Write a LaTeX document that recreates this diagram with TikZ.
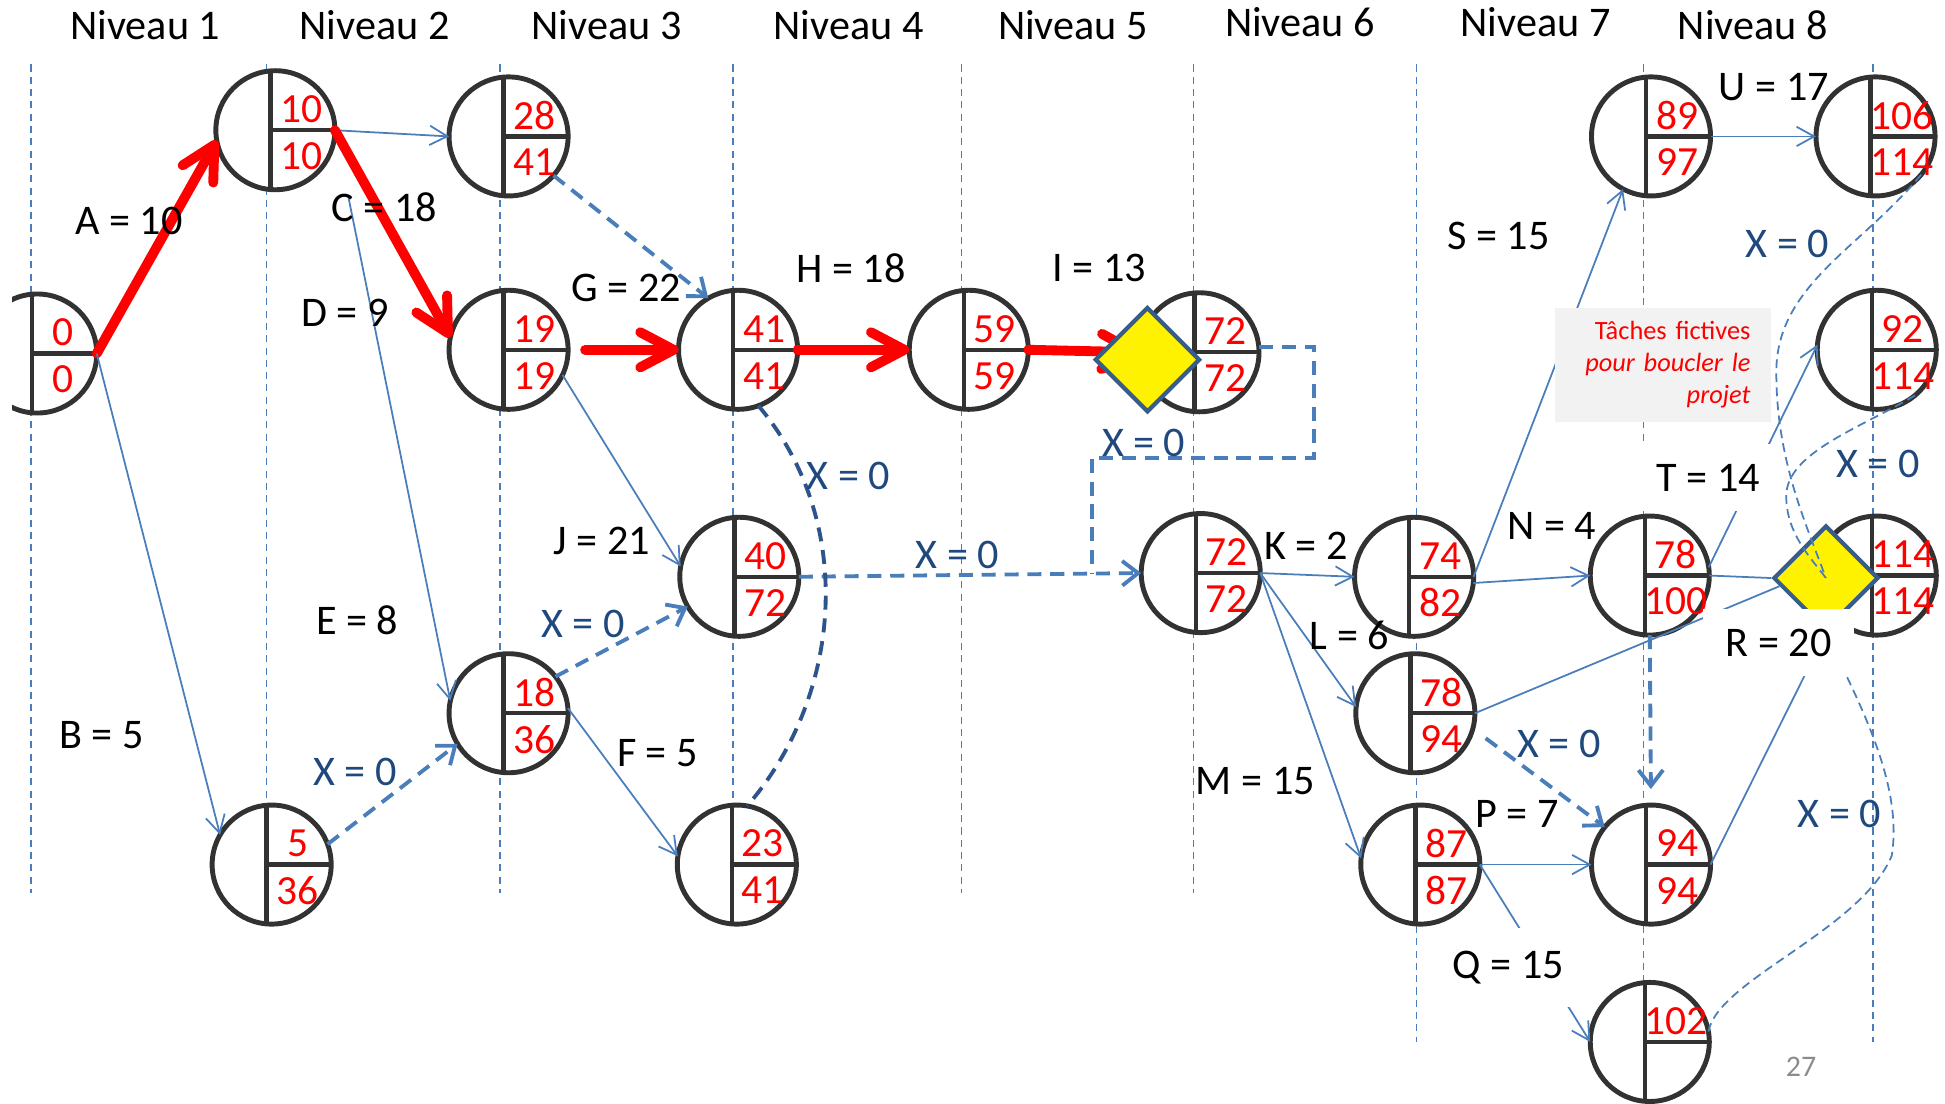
\documentclass[tikz,border=0pt]{standalone}
\usepackage{fontspec}
\setmainfont{Carlito}
\usetikzlibrary{arrows.meta,shapes.geometric}

\definecolor{pertblue}{RGB}{74,126,187}
\definecolor{pertnavy}{RGB}{31,73,125}
\definecolor{pertcurve}{RGB}{46,84,140}
\definecolor{diaedge}{RGB}{56,93,138}
\definecolor{notegray}{RGB}{242,242,242}
\definecolor{evtgray}{RGB}{50,50,50}

% event: name, x, y, early date, late date
\newcommand{\evt}[5]{%
  \node[evt] (#1) at (#2,#3) {};
  \draw[evtline] (#2-4,#3-47.8) -- (#2-4,#3+47.8);
  \draw[evtline] (#2-4,#3) -- (#2+48,#3);
  \node[num] (#1t) at (#2+21,#3-17) {#4};
  \node[num] (#1b) at (#2+21,#3+21) {#5};}

\begin{document}
\begin{tikzpicture}
    [x=0.124mm,y=-0.124mm,
     evt/.style={circle,draw=evtgray,line width=1.4pt,fill=white,minimum size=11.9mm,inner sep=0,outer sep=0},
     evtline/.style={evtgray,line width=1.25pt},
     num/.style={text=red,inner sep=0,font=\fontsize{11.8}{13}\selectfont},
     dia/.style={diamond,aspect=1,draw=diaedge,fill=yellow,line width=1.2pt,minimum size=10.5mm,inner sep=0},
     level/.style={pertblue,line width=0.45pt,dash pattern=on 2pt off 1.5pt},
     title/.style={font=\fontsize{12}{14}\selectfont},
     lbl/.style={font=\fontsize{12}{14}\selectfont,inner sep=1pt},
     xlbl/.style={lbl,text=pertnavy},
     act/.style={pertblue,line width=0.5pt,-{Straight Barb[length=5pt,width=5.5pt]}},
     actline/.style={pertblue,line width=0.5pt},
     crit/.style={red,line width=2.8pt,line cap=round,-{Straight Barb[length=9.5pt,width=10pt,round]}},
     dummy/.style={pertblue,line width=1.1pt,dash pattern=on 4pt off 2.5pt,-{Straight Barb[length=4.5pt,width=7pt]}},
     dummyline/.style={pertblue,line width=1.1pt,dash pattern=on 4pt off 2.5pt},
     curve/.style={pertcurve,line width=1.1pt,dash pattern=on 4pt off 2.5pt},
     fict/.style={pertblue,line width=0.5pt,dash pattern=on 2.5pt off 1.5pt}]
    \useasboundingbox (0,0) rectangle (1568,890);

    % niveaux
    \foreach \lx in {25,215,403,591,775,962}
      \draw[level] (\lx,52) -- (\lx,720);
    \foreach \lx in {1142,1325,1510}
      \draw[level] (\lx,52) -- (\lx,840);
    \foreach \k/\lx/\ly in {1/117/20,2/302/20,3/489/20,4/684/20,5/865/20,6/1048/18,7/1238/18,8/1413/20}
      \node[title] (niv\k) at (\lx,\ly) {Niveau \k};

    % events
    \evt{n0}{30}{285}{0}{0}
    \fill[white] (0,230) rectangle (10,340);
    \evt{n10}{222}{105}{10}{10}
    \evt{n5}{219}{697}{5}{36}
    \evt{n28}{410}{110}{28}{41}
    \evt{n19}{410}{282}{19}{19}
    \evt{n18}{410}{575}{18}{36}
    \evt{n41}{595}{282}{41}{41}
    \evt{n40}{596}{465}{40}{72}
    \evt{n23}{594}{697}{23}{41}
    \evt{n59}{781}{282}{59}{59}
    \evt{n72a}{967}{284}{72}{72}
    \evt{n72b}{968}{462}{72}{72}
    \evt{n74}{1140}{465}{74}{82}
    \evt{n78a}{1141}{575}{78}{94}
    \evt{n87}{1145}{697}{87}{87}
    \evt{n89}{1331}{110}{89}{97}
    \evt{n78b}{1330}{464}{78}{100}
    \evt{n94}{1331}{697}{94}{94}
    \evt{n102}{1330}{840}{102}{}
    \evt{n106}{1512}{110}{106}{114}
    \evt{n92}{1513}{282}{92}{114}
    \evt{n114}{1513}{464}{114}{114}
    \node[dia] (dia2) at (1472,466) {};
    \coordinate (j72) at (880,462);

    % activities
    \draw[crit] (n0.east) -- (n10.190);
    \draw[act] (n0.east) -- (n5.150);
    \draw[act] (n10.east) -- (n28.west);
    \draw[crit] (n10.east) -- (n19.168);
    \draw[act,shorten <=6.8mm] (n10.east) -- (n18.168);
    \draw[crit,shorten <=1.7mm] (n19.east) -- (n41.west);
    \draw[act] (n19.-25) -- (n40.170);
    \draw[act] (n18.5) -- (n23.172);
    \draw[crit] (n41.east) -- (n59.west);
    \draw[crit] (n59.east) -- (n72a.west);
    \draw[act] (n72b.east) -- (n74.west);
    \draw[act] (n72b.east) -- (n78a.174);
    \draw[act] (n72b.east) -- (n87.174);
    \draw[act] (n74.east) -- (n89.242);
    \draw[act] (n74.-6) -- (n78b.west);
    \draw[act] (n87.east) -- (n94.west);
    \draw[act] (n87.east) -- (n102.west);
    \draw[act] (n89.east) -- (n106.west);
    \draw[act] (n78b.8) -- (n92.175);
    \draw[actline] (n78b.east) -- (dia2.west);
    \draw[actline] (n78a.east) -- (dia2.190);
    \draw[actline] (n94.east) -- (dia2.south);

    % dummies
    \draw[dummy] (n5.20) -- (n18.211);
    \draw[dummy] (n18.38) -- (n40.210);
    \draw[dummy] (n28.-41) -- (n41.120);
    \draw[dummy] (n40.east) -- (n72b.west);
    \draw[dummyline] (n72a.5) -| (1059,369) -| (j72);
    \draw[dummy,shorten <=1.6mm] (n78a.-15) -- (n94.141);
    \draw[dummy,shorten >=1.6mm] (n78b.south) -- (n94.north);
    \draw[curve] (n41.-70) .. controls (690,420) and (680,560) .. (n23.80);

    \node[dia] (dia1) at (925,290) {};

    % fictive tasks
    \draw[fict] (n106.-40) .. controls (1500,200) and (1432,230) .. (1432,300)
      .. controls (1432,370) and (1455,420) .. (dia2.center);
    \draw[fict] (n92.-50) .. controls (1500,345) and (1440,365) .. (1440,400)
      .. controls (1440,430) and (1460,450) .. (dia2.center);
    \draw[fict] (n102.10) .. controls (1385,790) and (1500,750) .. (1525,690)
      .. controls (1535,630) and (1495,560) .. (dia2.south);

    % labels
    \node[lbl] (lA) at (104,178) {A = 10};
    \node[lbl] (lB) at (82,593) {B = 5};
    \node[lbl] (lC) at (310,167) {C = 18};
    \node[lbl] (lD) at (278,252) {D = 9};
    \node[lbl] (lE) at (288,500) {E = 8};
    \node[lbl] (lF) at (530,607) {F = 5};
    \node[lbl] (lG) at (505,232) {G = 22};
    \node[lbl] (lH) at (686,216) {H = 18};
    \node[lbl] (lI) at (886,216) {I = 13};
    \node[lbl] (lJ) at (485,436) {J = 21};
    \node[lbl] (lK) at (1053,440) {K = 2};
    \node[lbl] (lL) at (1088,512) {L = 6};
    \node[lbl] (lM) at (1012,630) {M = 15};
    \node[lbl] (lN) at (1251,424) {N = 4};
    \node[lbl] (lP) at (1223,656) {P = 7};
    \node[lbl,fill=white,minimum width=13.9mm,minimum height=7.9mm] (lQ) at (1216,780) {Q = 15};
    \node[lbl,fill=white,minimum width=15.1mm,minimum height=6.7mm] (lR) at (1434,518) {R = 20};
    \node[lbl] (lS) at (1208,190) {S = 15};
    \node[lbl,fill=white,minimum width=13.6mm,minimum height=6.7mm] (lT) at (1377,385) {T = 14};
    \node[lbl] (lU) at (1430,70) {U = 17};

    \node[xlbl] (x1) at (286,622) {X = 0};
    \node[xlbl] (x2) at (470,503) {X = 0};
    \node[xlbl] (x3) at (684,384) {X = 0};
    \node[xlbl] (x4) at (772,447) {X = 0};
    \node[xlbl] (x5) at (922,357) {X = 0};
    \node[xlbl] (x6) at (1257,600) {X = 0};
    \node[xlbl] (x7) at (1441,197) {X = 0};
    \node[xlbl] (x8) at (1514,374) {X = 0};
    \node[xlbl] (x9) at (1483,656) {X = 0};

    \node[fill=notegray,text=red,align=right,text width=17.4mm,inner xsep=2.1mm,
          minimum height=11.4mm,font=\fontsize{7.5}{9.1}\selectfont] (note) at (1341,294)
      {Tâches fictives\\\textit{pour boucler le}\\\textit{projet}};
    \node[text={rgb,255:red,140;green,140;blue,140},font=\fontsize{8.5}{10}\selectfont] (page) at (1452,860) {27};
\end{tikzpicture}
\end{document}
